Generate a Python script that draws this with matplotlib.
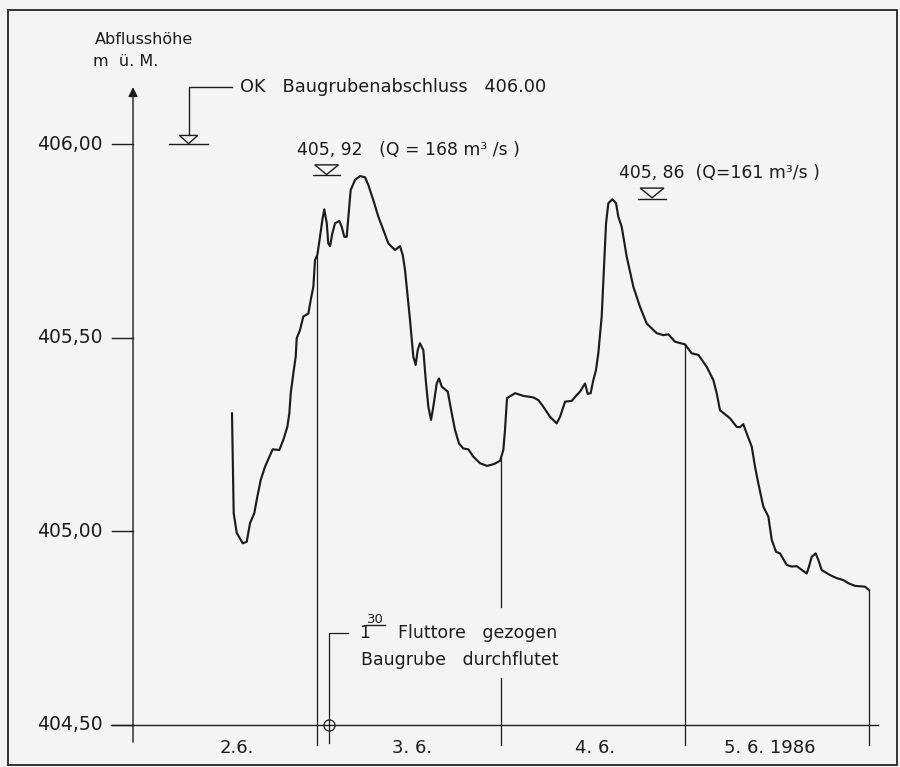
import numpy as np
import matplotlib.pyplot as plt
from matplotlib.patches import Polygon, Rectangle

# Zeit in Stunden ab 2.6. 0 Uhr, Wasserspiegel in m ü. M.
hours = [12.91, 13.13, 13.53, 14.31, 14.83, 15.26, 15.82, 16.13, 16.66, 17.22,
         18.22, 19.08, 19.60, 20.13, 20.39, 20.57, 20.91, 21.22, 21.35, 21.78,
         22.21, 22.87, 23.18, 23.52, 23.74, 24.04, 24.39, 24.69, 24.95, 25.27,
         25.47, 25.70, 26.00, 26.35, 26.91, 27.22, 27.56, 27.87, 28.17, 28.39,
         28.96, 29.61, 30.26, 30.69, 31.34, 32.00, 32.65, 33.30, 34.17, 34.83,
         35.18, 35.48, 35.78, 36.13, 36.56, 36.87, 37.13, 37.43, 37.87, 38.18,
         38.52, 38.87, 39.17, 39.61, 39.91, 40.27, 41.05, 41.57, 42.00, 42.52,
         43.08, 43.73, 44.39, 45.26, 46.17, 47.09, 47.87, 48.30, 48.52, 48.78,
         49.83, 50.91, 52.22, 52.87, 53.52, 54.39, 55.26, 55.70, 56.35, 57.22,
         57.87, 58.30, 58.96, 59.31, 59.69, 60.04, 60.39, 60.69, 61.13, 61.43,
         61.70, 62.00, 62.52, 63.00, 63.30, 63.74, 64.39, 65.26, 66.13, 67.00,
         68.31, 69.17, 69.82, 70.70, 72.00, 72.87, 73.74, 74.83, 75.69, 76.13,
         76.56, 77.87, 78.74, 79.17, 79.60, 80.04, 80.70, 81.13, 81.56, 82.21,
         82.87, 83.31, 83.87, 84.39, 85.26, 85.91, 86.57, 87.87, 88.17, 88.52,
         89.04, 89.39, 89.83, 90.91, 91.78, 92.65, 93.30, 94.17, 95.48, 96.00]
level = [405.305, 405.047, 404.996, 404.969, 404.973, 405.021, 405.047, 405.081, 405.133, 405.167,
         405.212, 405.210, 405.236, 405.270, 405.305, 405.357, 405.408, 405.451, 405.499, 405.520,
         405.555, 405.563, 405.598, 405.632, 405.701, 405.714, 405.761, 405.804, 405.832, 405.796,
         405.744, 405.737, 405.770, 405.796, 405.802, 405.787, 405.761, 405.761, 405.830, 405.882,
         405.908, 405.918, 405.915, 405.895, 405.856, 405.813, 405.779, 405.744, 405.727, 405.737,
         405.714, 405.675, 405.615, 405.546, 405.451, 405.430, 405.468, 405.486, 405.468, 405.391,
         405.322, 405.288, 405.322, 405.382, 405.395, 405.374, 405.361, 405.305, 405.262, 405.227,
         405.214, 405.212, 405.193, 405.176, 405.169, 405.174, 405.182, 405.210, 405.262, 405.344,
         405.357, 405.350, 405.346, 405.339, 405.322, 405.296, 405.279, 405.296, 405.335, 405.337,
         405.352, 405.361, 405.382, 405.355, 405.357, 405.391, 405.417, 405.460, 405.555, 405.684,
         405.796, 405.848, 405.858, 405.848, 405.813, 405.787, 405.710, 405.632, 405.580, 405.537,
         405.512, 405.507, 405.509, 405.490, 405.483, 405.460, 405.456, 405.425, 405.391, 405.357,
         405.313, 405.292, 405.270, 405.269, 405.277, 405.253, 405.219, 405.167, 405.124, 405.064,
         405.038, 404.978, 404.947, 404.943, 404.913, 404.909, 404.910, 404.891, 404.909, 404.934,
         404.943, 404.926, 404.900, 404.887, 404.879, 404.874, 404.866, 404.859, 404.857, 404.848]

y_ticks = [404.5, 405.0, 405.5, 406.0]
y_labels = ['404,50', '405,00', '405,50', '406,00']
day_bounds = [0, 24, 48, 72, 96]
day_labels = ['2.6.', '3. 6.', '4. 6.', '5. 6. 1986']
day_label_pos = [13.5, 36.4, 60.3, 83.1]

ok_level = 406.00
peak_levels = [405.92, 405.86]
peak_texts = ['405, 92   (Q = 168 m³ /s )', '405, 86  (Q=161 m³/s )']
gate_time = 25.5   # 3.6. 1.30 Uhr

ink = '#1c1c1c'
plt.rcParams['font.family'] = ['DejaVu Sans']

fig = plt.figure(figsize=(9, 7.67), dpi=100, facecolor='#f4f4f4')
ax = fig.add_axes([0, 0, 1, 1])
ax.set_facecolor('#f4f4f4')
ax.set_xlim(-17.35, 100.04)
ax.set_ylim(404.391, 406.373)
ax.axis('off')

# Rahmen
fig.patches.append(Rectangle((8 / 900, 2 / 767), 889 / 900, 755 / 767, transform=fig.transFigure,
                             fill=False, lw=1.4, ec='#333333'))

# Achsen
ax.plot([-2.9, 97.2], [404.5, 404.5], color=ink, lw=1.0)
ax.annotate('', xy=(0, 406.155), xytext=(0, 404.448),
            arrowprops=dict(arrowstyle='-|>', lw=1.0, color=ink, mutation_scale=14))
for t, lab in zip(y_ticks, y_labels):
    ax.plot([-2.75, 0], [t, t], color=ink, lw=1.0)
    ax.text(-4.0, t, lab, ha='right', va='center', fontsize=13.5, color=ink)

ax.text(-4.95, 406.27, 'Abflusshöhe', ha='left', va='center', fontsize=11.5, color=ink)
ax.text(-5.2, 406.213, 'm  ü. M.', ha='left', va='center', fontsize=11.5, color=ink)

# Tagesgrenzen bis zur Ganglinie
for d in day_bounds[1:]:
    top = np.interp(d, hours, level)
    if d == 48:
        ax.plot([d, d], [404.448, 404.622], color=ink, lw=0.9)
        ax.plot([d, d], [404.805, top], color=ink, lw=0.9)
    else:
        ax.plot([d, d], [404.448, top], color=ink, lw=0.9)
for pos, lab in zip(day_label_pos, day_labels):
    ax.text(pos, 404.44, lab, ha='center', va='center', fontsize=13, color=ink)

# Ganglinie
ax.plot(hours, level, color=ink, lw=1.55, solid_joinstyle='round')


def level_mark(hc, v, half_line, half_tri, tri_h):
    ax.plot([hc - half_line, hc + half_line], [v, v], color=ink, lw=1.0)
    ax.add_patch(Polygon([(hc - half_tri, v + tri_h), (hc + half_tri, v + tri_h), (hc, v + 0.002)],
                         closed=True, fill=False, ec=ink, lw=1.0))


# OK Baugrubenabschluss
level_mark(7.25, ok_level, 2.5, 1.2, 0.023)
ax.plot([7.25, 7.25, 12.9], [ok_level + 0.025, 406.147, 406.147], color=ink, lw=1.0)
ax.text(13.95, 406.147, 'OK   Baugrubenabschluss   406.00', ha='left', va='center',
        fontsize=12.8, color=ink)

# Spitzenwerte
for hc, v, txt, tx in zip([25.25, 67.7], peak_levels, peak_texts, [21.35, 63.43]):
    level_mark(hc, v, 1.8, 1.55, 0.027)
    ax.text(tx, v + 0.066, txt, ha='left', va='center', fontsize=12.4, color=ink)

# Fluttore gezogen
ax.plot([gate_time, gate_time, 28.1], [404.453, 404.736, 404.736], color=ink, lw=0.9)
ax.plot([gate_time], [404.5], 'o', ms=8, mfc='none', mec=ink, mew=0.9)
ax.text(29.55, 404.736, '1', ha='left', va='center', fontsize=12.5, color=ink)
ax.text(30.5, 404.773, '30', ha='left', va='center', fontsize=9.5, color=ink)
ax.plot([30.45, 32.9], [404.757, 404.757], color=ink, lw=1.0)
ax.text(34.6, 404.736, 'Fluttore   gezogen', ha='left', va='center', fontsize=12.5, color=ink)
ax.text(29.75, 404.668, 'Baugrube   durchflutet', ha='left', va='center', fontsize=12.5, color=ink)

fig.savefig('out.png', dpi=100, facecolor=fig.get_facecolor())
